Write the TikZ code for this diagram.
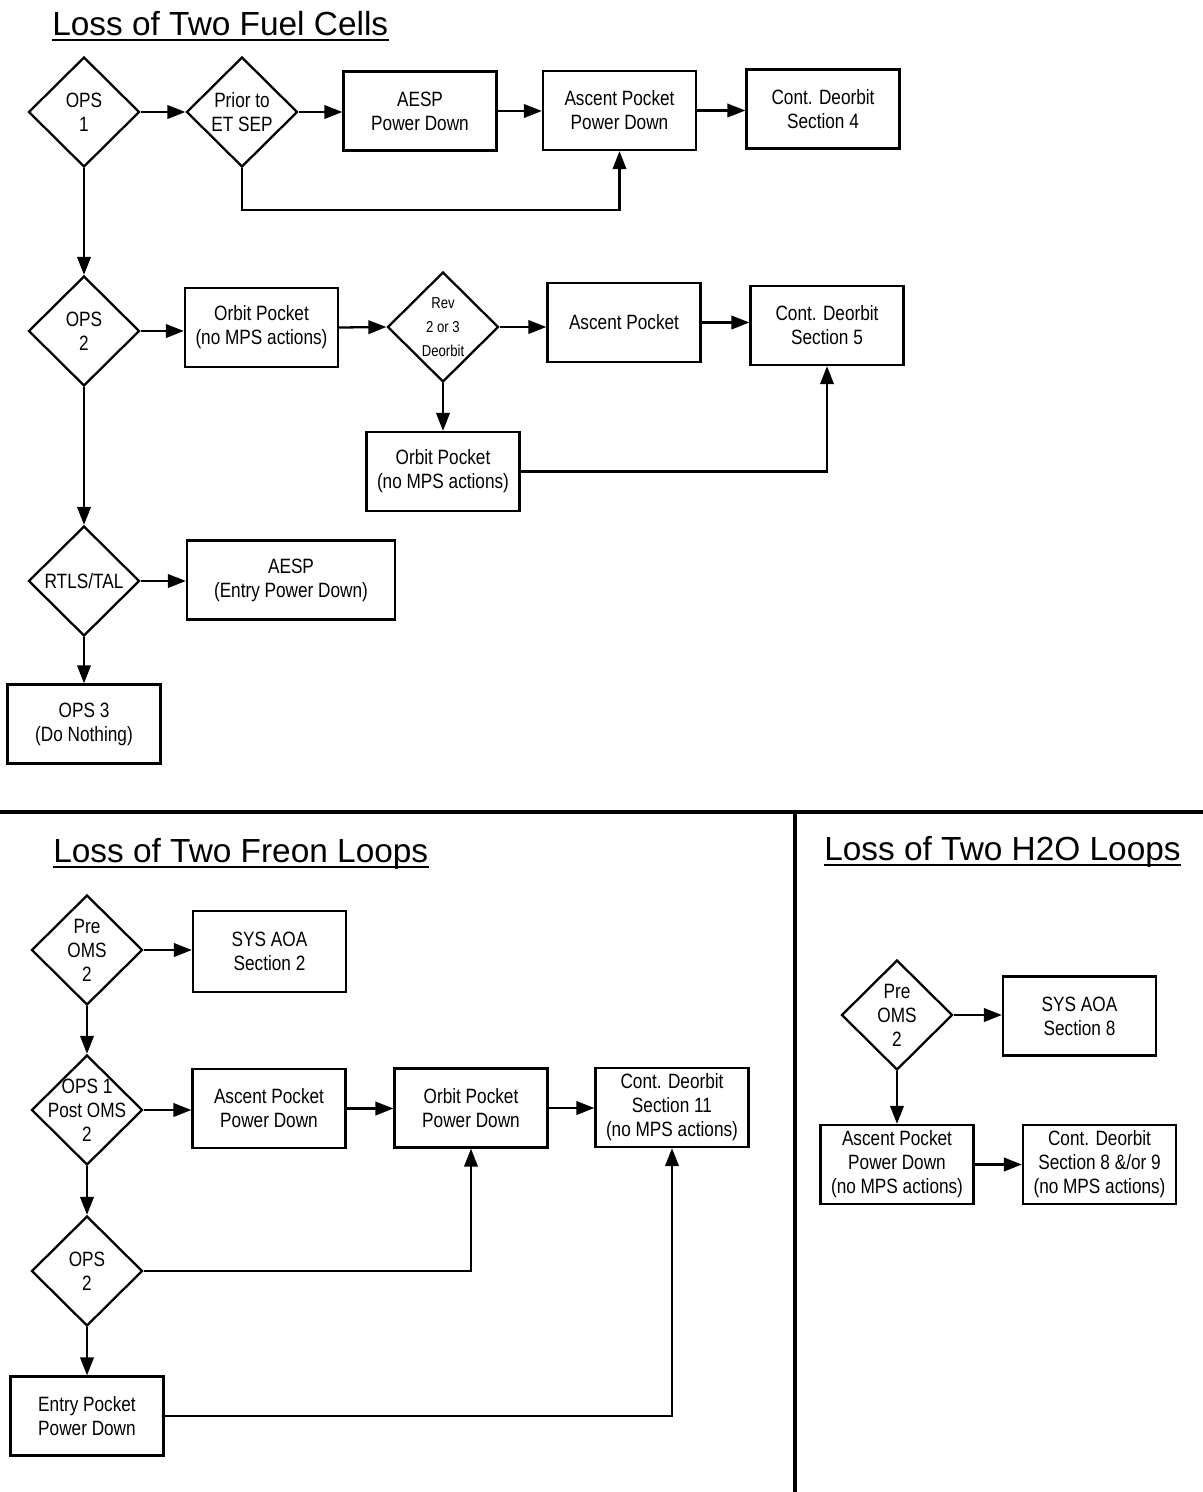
\documentclass[tikz,border=0pt]{standalone}
\usepackage{fontspec}
\setmainfont{Liberation Sans}[FakeStretch=0.83]
\newfontfamily\titlefont{Liberation Sans}
\usetikzlibrary{shapes.geometric,arrows.meta,calc}
\begin{document}
\begin{tikzpicture}[x=0.02cm,y=-0.02cm,
  bx/.style={draw, line width=1.3pt, inner sep=0pt, align=center,
    minimum width=3.06cm, minimum height=1.58cm,
    font=\fontsize{11.8}{13.6}\selectfont},
  dia/.style={draw, diamond, line width=1.3pt, inner sep=0pt,
    minimum width=2.22cm, minimum height=2.2cm},
  dtext/.style={align=center, inner sep=0pt, font=\fontsize{11.8}{13.6}\selectfont},
  arr/.style={line width=1.3pt, -{Triangle[length=0.36cm,width=0.27cm]}},
  uline/.style={line width=1.2pt},
  ttl/.style={anchor=base west, inner sep=0pt, font=\titlefont\fontsize{19}{22}\selectfont}]
\useasboundingbox (0,0) rectangle (1203,1492);

% ---------- Titles
\node[ttl] (t1) at (52,35) {Loss of Two Fuel Cells};
\node[ttl] (t2) at (53,862) {Loss of Two Freon Loops};
\node[ttl] (t3) at (824,860) {Loss of Two H2O Loops};
\foreach \t in {t1,t2,t3}
  \draw[uline] ($(\t.base west)+(0,5)$) -- ($(\t.base east)+(0,5)$);

% ---------- Separators
\draw[line width=2.4pt] (0,812) -- (1203,812);
\draw[line width=2.4pt] (795,812) -- (795,1492);

% ---------- Fuel cells
\node[dia] (d1) at (84,112) {};
\node[dtext] at (d1.center) {OPS\\1};
\node[dia] (d2) at (242,112) {};
\node[dtext] at (d2.center) {Prior to\\ET SEP};
\node[bx] (aesp1) at (420,111) {AESP\\Power Down};
\node[bx] (asc1) at (619.5,110.5) {Ascent Pocket\\Power Down};
\node[bx] (cd4) at (823,109) {Cont. Deorbit\\Section 4};

\node[dia] (d3) at (84,331) {};
\node[dtext] at (d3.center) {OPS\\2};
\node[bx] (orb1) at (261.5,327.5) {Orbit Pocket\\(no MPS actions)};
\node[dia] (d4) at (443,327) {};
\node[dtext, font=\fontsize{9}{13.6}\selectfont] at (d4.center) {Rev\\2 or 3\\Deorbit};
\node[bx] (asc2) at (624,322.5) {Ascent Pocket};
\node[bx] (cd5) at (827,325.5) {Cont. Deorbit\\Section 5};
\node[bx] (orb2) at (443,471.5) {Orbit Pocket\\(no MPS actions)};

\node[dia] (d5) at (84,581) {};
\node[dtext] at (d5.center) {RTLS/TAL};
\node[bx, minimum width=4.16cm] (aesp2) at (291,580) {AESP\\(Entry Power Down)};
\node[bx] (ops3) at (84,724) {OPS 3\\(Do Nothing)};

\draw[arr] (d1.east) -- (d2.west);
\draw[arr] (d2.east) -- (aesp1.west |- d2.east);
\draw[arr] (aesp1.east) -- (asc1.west |- aesp1.east);
\draw[arr] (asc1.east) -- (cd4.west |- asc1.east);
\coordinate (c1) at (242,210);
\draw[arr] (d2.south) -- (c1) -| (asc1.south);
\draw[arr] (d1.south) -- (d3.north);
\draw[arr] (d3.east) -- (orb1.west |- d3.east);
\draw[arr] (orb1.east) -- (d4.west);
\draw[arr] (d4.east) -- (asc2.west |- d4.east);
\draw[arr] (asc2.east) -- (cd5.west |- asc2.east);
\draw[arr] (d4.south) -- (orb2.north);
\draw[arr] (orb2.east) -| (cd5.south);
\draw[arr] (d3.south) -- (d5.north);
\draw[arr] (d5.east) -- (aesp2.west |- d5.east);
\draw[arr] (d5.south) -- (ops3.north);

% ---------- Freon loops
\node[dia] (d6) at (87,950) {};
\node[dtext] at (d6.center) {Pre\\OMS\\2};
\node[bx, minimum height=1.62cm] (sys2) at (269.5,951.5) {SYS AOA\\Section 2};
\node[dia] (d7) at (87,1110) {};
\node[dtext] at (d7.center) {OPS 1\\Post OMS\\2};
\node[bx] (asc3) at (269,1108.5) {Ascent Pocket\\Power Down};
\node[bx] (orb3) at (471,1108) {Orbit Pocket\\Power Down};
\node[bx] (cd11) at (672,1107.5) {Cont. Deorbit\\Section 11\\(no MPS actions)};
\node[dia] (d8) at (87,1271) {};
\node[dtext] at (d8.center) {OPS\\2};
\node[bx] (entry) at (87,1416) {Entry Pocket\\Power Down};

\draw[arr] (d6.east) -- (sys2.west |- d6.east);
\draw[arr] (d6.south) -- (d7.north);
\draw[arr] (d7.east) -- (asc3.west |- d7.east);
\draw[arr] (asc3.east) -- (orb3.west |- asc3.east);
\draw[arr] (orb3.east) -- (cd11.west |- orb3.east);
\draw[arr] (d7.south) -- (d8.north);
\draw[arr] (d8.east) -| (orb3.south);
\draw[arr] (d8.south) -- (entry.north);
\draw[arr] (entry.east) -| (cd11.south);

% ---------- H2O loops
\node[dia] (d9) at (897,1015) {};
\node[dtext] at (d9.center) {Pre\\OMS\\2};
\node[bx] (sys8) at (1079.5,1016) {SYS AOA\\Section 8};
\node[bx] (asc4) at (897,1164.5) {Ascent Pocket\\Power Down\\(no MPS actions)};
\node[bx] (cd89) at (1099.5,1164.5) {Cont. Deorbit\\Section 8 \&/or 9\\(no MPS actions)};

\draw[arr] (d9.east) -- (sys8.west |- d9.east);
\draw[arr] (d9.south) -- (asc4.north);
\draw[arr] (asc4.east) -- (cd89.west |- asc4.east);
\end{tikzpicture}
\end{document}
